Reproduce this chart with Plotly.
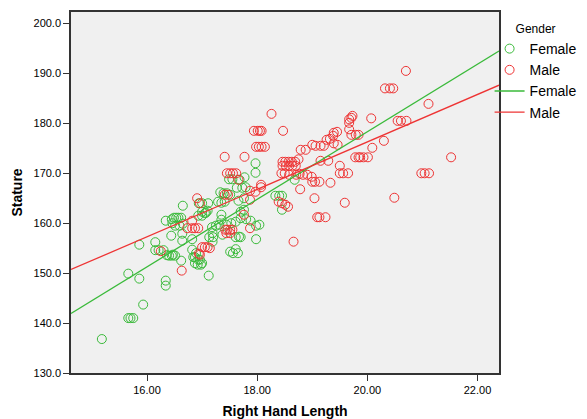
import numpy as np
import plotly.graph_objects as go

# Female (green) observations: right hand length (cm), stature (cm)
female_hand = [15.18, 15.66, 15.70, 15.75, 15.93, 15.66, 15.86, 16.34, 16.34, 15.86,
               16.15, 16.15, 16.21, 16.30, 16.36, 16.45, 16.51, 16.34, 16.45, 16.49,
               16.53, 16.57, 16.62, 16.46, 16.51, 16.59, 16.65, 16.65, 16.44, 16.64,
               16.64, 16.62, 16.82, 16.94, 16.82, 16.84, 16.87, 16.87, 16.93, 16.89,
               16.96, 17.00, 16.92, 16.98, 17.12, 17.00, 17.11, 17.00, 17.05, 16.93,
               17.00, 17.35, 17.35, 17.44, 17.53, 17.61, 17.70, 17.70, 17.76, 17.80,
               17.88, 17.98, 18.04, 17.18, 17.25, 17.31, 17.20, 17.13, 17.19, 17.61,
               17.67, 17.70, 17.98, 17.51, 17.56, 17.61, 17.65, 17.29, 17.35, 17.41,
               17.66, 17.33, 17.39, 17.45, 17.51, 17.63, 17.73, 17.79, 17.49, 17.55,
               17.68, 17.77, 17.97, 17.97, 18.33, 18.40, 18.45, 18.45, 18.68, 17.76,
               17.07, 17.10, 17.19, 17.37, 16.40, 16.47]
female_stature = [136.8, 141.0, 141.0, 141.0, 143.7, 149.9, 148.9, 148.5, 147.5, 155.7,
                  156.2, 154.6, 154.6, 154.6, 153.6, 153.5, 153.5, 160.5, 160.8, 161.1,
                  161.1, 161.1, 161.1, 160.0, 159.5, 159.5, 159.9, 163.5, 157.5, 157.9,
                  156.5, 152.5, 156.8, 164.0, 154.7, 153.2, 153.2, 152.0, 152.7, 154.0,
                  152.7, 152.0, 151.7, 151.7, 149.5, 164.0, 164.0, 162.3, 162.0, 161.5,
                  161.5, 161.7, 160.7, 159.7, 160.0, 160.3, 161.0, 162.3, 162.7, 160.8,
                  160.5, 159.5, 159.7, 159.2, 159.5, 159.7, 157.2, 157.2, 158.0, 157.2,
                  157.3, 157.2, 156.8, 154.3, 154.0, 154.8, 154.0, 164.3, 164.1, 164.3,
                  164.5, 166.2, 166.0, 166.0, 165.7, 167.1, 167.1, 167.2, 168.8, 168.8,
                  168.7, 169.2, 172.0, 170.1, 165.5, 165.5, 165.5, 162.7, 168.7, 165.0,
                  162.1, 162.5, 156.3, 157.7, 153.5, 153.7]

# Male (red) observations
male_hand = [16.25, 16.63, 16.82, 16.91, 16.73, 16.82, 16.87, 16.93, 16.94, 17.00,
             17.05, 17.10, 17.14, 16.96, 16.96, 17.41, 17.77, 17.45, 17.51, 17.56,
             17.62, 17.66, 17.41, 17.47, 17.87, 17.97, 18.07, 17.87, 17.42, 17.46,
             17.51, 17.55, 17.44, 17.51, 17.76, 17.87, 18.26, 17.94, 18.01, 18.05,
             18.08, 18.47, 17.98, 18.03, 18.08, 18.14, 18.46, 18.51, 18.57, 18.63,
             18.69, 18.75, 18.46, 18.52, 18.58, 18.64, 18.70, 18.44, 18.50, 18.58,
             18.71, 18.77, 18.83, 18.91, 18.99, 19.00, 19.05, 19.13, 19.33, 18.78,
             19.04, 19.59, 20.49, 18.39, 18.45, 18.51, 18.56, 19.09, 19.13, 19.24,
             18.66, 18.79, 18.88, 19.00, 19.06, 19.15, 19.21, 19.26, 19.32, 19.38,
             19.39, 19.45, 19.15, 19.29, 19.50, 19.50, 19.56, 19.65, 20.70, 20.32,
             20.41, 20.47, 19.73, 19.71, 19.67, 19.67, 19.67, 20.07, 20.55, 20.61,
             20.71, 19.71, 19.79, 19.84, 20.30, 20.09, 19.78, 19.84, 19.87, 19.93,
             20.01, 21.11, 21.52, 20.98, 21.04, 21.12, 19.46, 19.39, 18.07]
male_stature = [154.4, 150.5, 160.5, 165.0, 159.0, 159.0, 159.0, 159.0, 153.9, 155.2,
                155.2, 155.2, 155.0, 153.7, 164.0, 173.3, 173.3, 170.0, 170.0, 170.0,
                170.0, 168.7, 165.7, 165.7, 166.5, 166.3, 167.2, 164.7, 158.7, 158.7,
                158.7, 158.7, 158.0, 158.0, 161.7, 159.0, 181.9, 178.5, 178.5, 178.5,
                178.5, 178.5, 175.3, 175.3, 175.3, 175.3, 172.3, 172.3, 172.3, 172.3,
                172.3, 172.8, 171.5, 171.5, 171.5, 171.5, 171.5, 170.0, 170.0, 169.7,
                169.7, 169.9, 169.7, 169.7, 169.3, 168.3, 168.3, 168.3, 168.1, 166.8,
                165.0, 164.1, 165.1, 164.3, 164.0, 163.7, 163.3, 161.2, 161.2, 161.2,
                156.3, 174.7, 174.7, 175.7, 175.5, 175.5, 175.5, 176.7, 176.9, 177.5,
                178.1, 178.3, 172.5, 172.5, 171.5, 170.0, 170.0, 170.0, 190.5, 187.0,
                187.0, 187.0, 181.5, 181.1, 180.8, 180.1, 178.8, 181.0, 180.5, 180.5,
                180.5, 177.7, 177.7, 177.7, 176.5, 175.1, 173.2, 173.2, 173.2, 173.2,
                173.2, 183.9, 173.2, 170.0, 170.0, 170.0, 175.7, 176.0, 167.7]

x_range = [14.62, 22.39]
y_range = [130.0, 202.3]
x_ticks = [16, 18, 20, 22]
y_ticks = [130, 140, 150, 160, 170, 180, 190, 200]

GREEN = "rgb(58,186,58)"
RED = "rgb(238,52,52)"
FONT = "Liberation Sans, Arial, sans-serif"


def fit_line(xs, ys):
    slope, intercept = np.polyfit(xs, ys, 1)
    xx = np.array(x_range)
    return xx, intercept + slope * xx


fig = go.Figure()
fig.add_trace(go.Scatter(x=female_hand, y=female_stature, mode="markers", name="Female",
                         marker=dict(symbol="circle-open", size=9, color=GREEN,
                                     line=dict(width=1, color=GREEN))))
fig.add_trace(go.Scatter(x=male_hand, y=male_stature, mode="markers", name="Male",
                         marker=dict(symbol="circle-open", size=9, color=RED,
                                     line=dict(width=1, color=RED))))
fx, fy = fit_line(female_hand, female_stature)
mx, my = fit_line(male_hand, male_stature)
fig.add_trace(go.Scatter(x=fx, y=fy, mode="lines", name="Female",
                         line=dict(color=GREEN, width=1.3)))
fig.add_trace(go.Scatter(x=mx, y=my, mode="lines", name="Male",
                         line=dict(color=RED, width=1.3)))

fig.update_layout(
    width=587, height=419,
    margin=dict(l=71, r=88, t=12, b=46, autoexpand=False),
    paper_bgcolor="white",
    plot_bgcolor="#f0f0f0",
    font=dict(family=FONT, size=11, color="black"),
    showlegend=True,
    legend=dict(
        title=dict(text="Gender", font=dict(size=12, family=FONT), side="top center"),
        font=dict(size=14, family=FONT),
        x=0.978, xanchor="left", y=0.985, yanchor="top",
        bgcolor="rgba(0,0,0,0)", tracegroupgap=0, itemwidth=30,
    ),
)
fig.update_xaxes(
    range=x_range, tickvals=x_ticks, tickformat=".2f",
    ticks="outside", ticklen=6, tickcolor="#333", tickwidth=1,
    showgrid=False, zeroline=False,
    showline=True, linecolor="#333", linewidth=1.5, mirror=True,
    title=dict(text="<b>Right Hand Length</b>", font=dict(size=14, family=FONT), standoff=12),
)
fig.update_yaxes(
    range=y_range, tickvals=y_ticks, tickformat=".1f",
    ticks="outside", ticklen=6, tickcolor="#333", tickwidth=1,
    showgrid=False, zeroline=False,
    showline=True, linecolor="#333", linewidth=1.5, mirror=True,
    title=dict(text="<b>Stature</b>", font=dict(size=14, family=FONT), standoff=8),
)

fig.write_html("out.html", config={"displayModeBar": False},
               post_script="document.body.style.margin='0';")
